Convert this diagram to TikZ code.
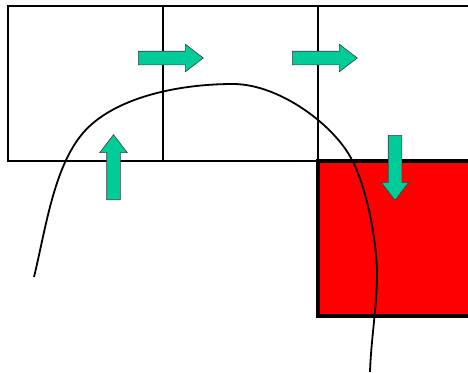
\documentclass[tikz,border=0pt]{standalone}
\definecolor{flowgreen}{RGB}{0,204,153}
\definecolor{edgegray}{RGB}{60,60,60}
\definecolor{hotred}{RGB}{255,0,0}
\usetikzlibrary{positioning, shapes.arrows}

\begin{document}
\begin{tikzpicture}[
  x=1pt, y=-1pt,
  cell/.style={draw=black, line width=2pt, minimum width=155pt,
    minimum height=155pt, inner sep=0pt, outer sep=0pt},
  hotcell/.style={cell, fill=hotred, line width=3.5pt},
  flow/.style={single arrow, draw=edgegray, line width=0.6pt, fill=flowgreen,
    minimum height=65pt, inner sep=6.5pt, single arrow head extend=7pt,
    single arrow tip angle=75, single arrow head indent=0pt, anchor=tail},
  path/.style={draw=black, line width=1.8pt},
]
\useasboundingbox (0,0) rectangle (468,372);
\clip (0,0) rectangle (468,372);

% the three cells of the top row and the red one below
\node[cell, anchor=north west] (cellA) at (8,6) {};
\node[cell, right=0pt of cellA] (cellB) {};
\node[cell, right=0pt of cellB] (cellC) {};
\node[hotcell, below=0pt of cellC] (cellD) {};

% the curve
\draw[path] (34,277) .. controls (45.8,228.5) and (53.7,167.2) .. (83,133)
  .. controls (112.3,98.8) and (175,84) .. (233,84)
  .. controls (280,84) and (335,126) .. (352,160)
  .. controls (366,186) and (377,240) .. (377,275)
  .. controls (377,305) and (371,340) .. (370,372);

% block arrows
\node[flow] (goAB) at (138,58) {};
\node[flow] (goBC) at (292,58) {};
\node[flow, rotate=90] (goUp) at (113.5,200) {};
\node[flow, rotate=-90] (goDown) at (395,135) {};
\end{tikzpicture}
\end{document}
